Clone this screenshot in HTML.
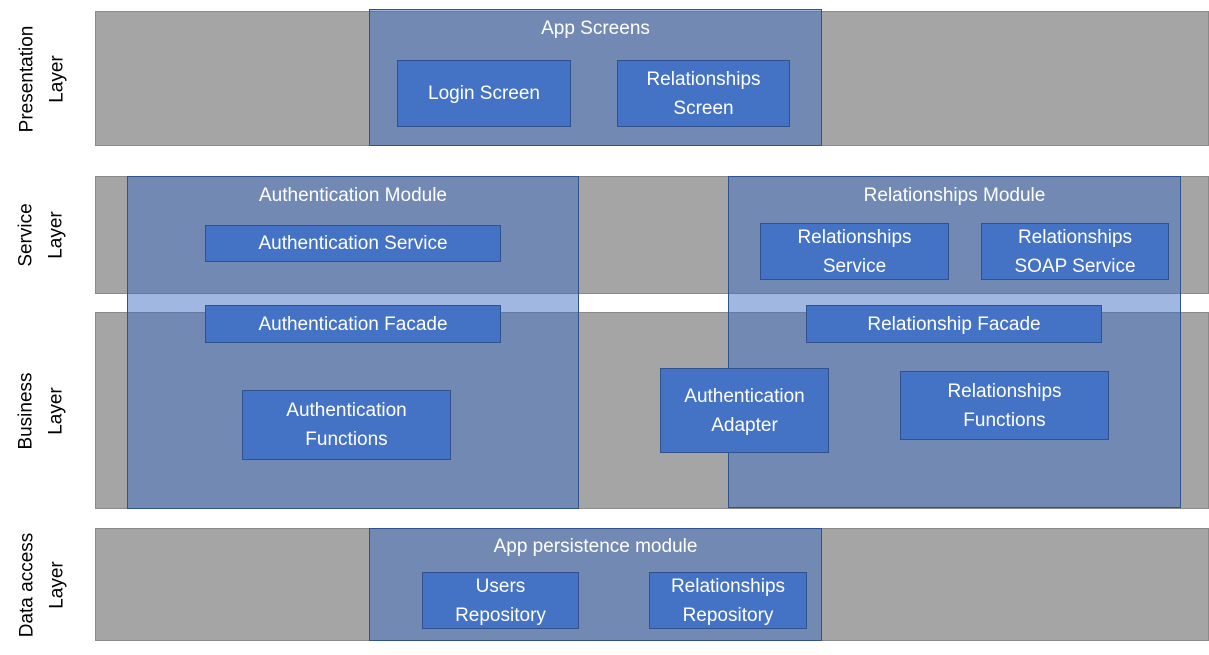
<!DOCTYPE html>
<html><head><style>
body{margin:0;width:1209px;height:655px;background:#fff;position:relative;overflow:hidden;font-family:"Liberation Sans",sans-serif;}
div{position:absolute;box-sizing:border-box;}
.band{background:#a5a5a5;border:1px solid #8a8a8a;left:95px;width:1114px;}
.mod{background:rgba(61,110,194,0.49);border:1px solid #2f528f;color:#fff;font-size:19px;text-align:center;padding-top:8px;}
.box{background:#4472c4;border:1px solid #2f528f;color:#fff;font-size:19px;text-align:center;display:flex;align-items:center;justify-content:center;line-height:29px;}
.lab{left:7px;width:70px;display:flex;align-items:center;justify-content:center;}
.lab span{transform:rotate(-90deg);white-space:nowrap;text-align:center;font-size:19px;line-height:30px;color:#000;}
</style></head><body>
<div class="band" style="top:11px;height:135px"></div>
<div class="band" style="top:176px;height:118px"></div>
<div class="band" style="top:312px;height:197px"></div>
<div class="band" style="top:528px;height:113px"></div>

<div class="lab" style="top:11px;height:135px"><span>Presentation<br>Layer</span></div>
<div class="lab" style="top:176px;height:118px"><span>Service<br>Layer</span></div>
<div class="lab" style="top:312px;height:197px"><span>Business<br>Layer</span></div>
<div class="lab" style="top:528px;height:113px"><span>Data access<br>Layer</span></div>

<div class="mod" style="left:369px;top:9px;width:453px;height:137px">App Screens</div>
<div class="box" style="left:397px;top:60px;width:174px;height:67px">Login Screen</div>
<div class="box" style="left:617px;top:60px;width:173px;height:67px">Relationships<br>Screen</div>

<div class="mod" style="left:127px;top:176px;width:452px;height:333px">Authentication Module</div>
<div class="box" style="left:205px;top:225px;width:296px;height:37px">Authentication Service</div>
<div class="box" style="left:205px;top:305px;width:296px;height:38px">Authentication Facade</div>
<div class="box" style="left:242px;top:390px;width:209px;height:70px">Authentication<br>Functions</div>

<div class="mod" style="left:728px;top:176px;width:453px;height:332px">Relationships Module</div>
<div class="box" style="left:760px;top:223px;width:189px;height:57px">Relationships<br>Service</div>
<div class="box" style="left:981px;top:223px;width:188px;height:57px">Relationships<br>SOAP Service</div>
<div class="box" style="left:806px;top:305px;width:296px;height:38px">Relationship Facade</div>
<div class="box" style="left:660px;top:368px;width:169px;height:85px">Authentication<br>Adapter</div>
<div class="box" style="left:900px;top:371px;width:209px;height:69px">Relationships<br>Functions</div>

<div class="mod" style="left:369px;top:528px;width:453px;height:113px;padding-top:7px">App persistence module</div>
<div class="box" style="left:422px;top:572px;width:157px;height:57px">Users<br>Repository</div>
<div class="box" style="left:649px;top:572px;width:158px;height:57px">Relationships<br>Repository</div>
</body></html>
